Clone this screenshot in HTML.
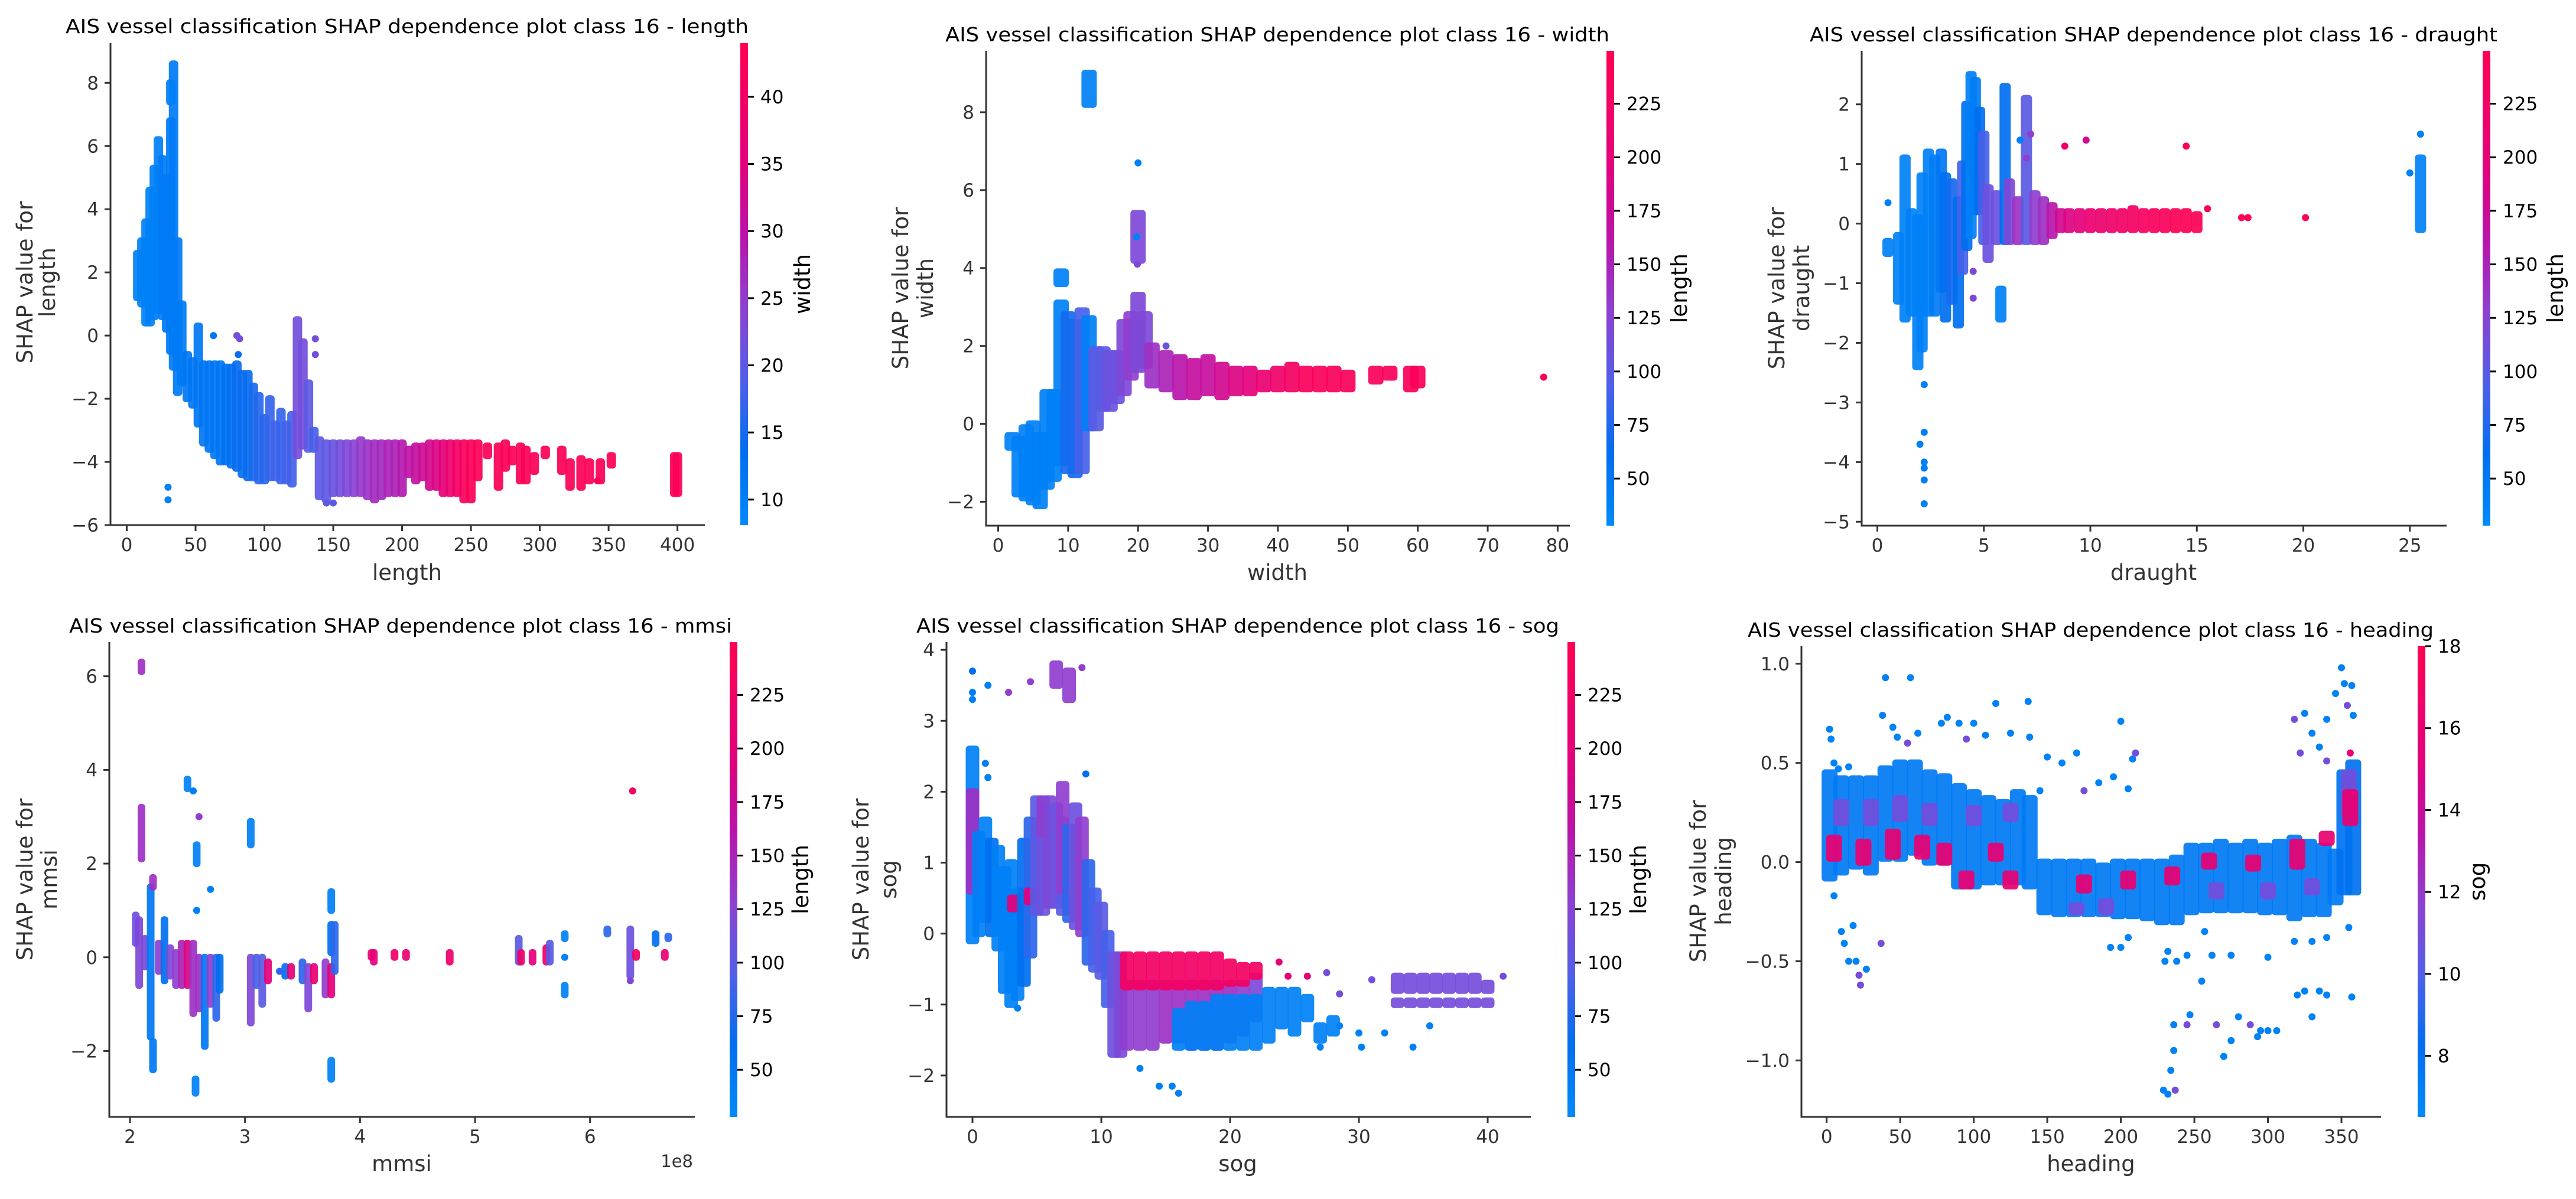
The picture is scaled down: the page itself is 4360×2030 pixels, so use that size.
<!DOCTYPE html>
<html><head><meta charset="utf-8">
<style>
html,body{margin:0;padding:0;background:#fff;}
svg{display:block;font-family:"DejaVu Sans","Liberation Sans",sans-serif;}
</style></head>
<body>
<svg id="fig" xmlns="http://www.w3.org/2000/svg" width="4360" height="2030" viewBox="0 0 4360 2030">
<defs>
<linearGradient id="cmapGrad" x1="0" y1="1" x2="0" y2="0">
<stop offset="0" stop-color="rgb(0,138,250)"/><stop offset="0.15" stop-color="rgb(0,110,240)"/>
<stop offset="0.3" stop-color="rgb(80,95,232)"/><stop offset="0.45" stop-color="rgb(140,65,210)"/>
<stop offset="0.6" stop-color="rgb(185,20,170)"/><stop offset="0.75" stop-color="rgb(225,0,125)"/>
<stop offset="1" stop-color="rgb(255,0,82)"/>
</linearGradient>
</defs>
</svg>
<script>
// ---------- DATA ----------
// columns: [x, shapLow, shapHigh, colourValue]; points: [x, shap, colourValue]
const lengthCols=[[8,1.2,2.6,10],[11,1.0,3.0,10],[14,0.4,3.6,10],[17,0.4,4.6,10],[20,0.6,5.3,10],[23,0.8,6.2,10],[26,0.6,5.6,11],[29,0.2,5.0,11],[32,-0.5,6.8,11],[34,-1.0,8.6,11],[32,7.4,8.0,10],[37,-1.8,3.0,11],[40,-1.5,1.0,11],
[44,-2.0,-0.6,12],[48,-2.2,-0.8,12],[52,-2.8,0.3,12],[56,-3.4,-0.9,12],[60,-3.6,-0.9,12],[64,-3.8,-0.9,12],[68,-4.0,-0.9,12],[72,-4.0,-1.0,13],[76,-4.1,-1.0,13],[80,-4.2,-0.9,14],[84,-4.4,-1.2,14],[88,-4.5,-1.2,14],[92,-4.5,-1.6,15],[96,-4.6,-1.9,16],[100,-4.6,-2.6,16],[104,-4.5,-2.0,17],[108,-4.5,-2.8,18],[112,-4.6,-2.4,17],[116,-4.6,-2.8,18],[120,-4.7,-2.5,18],[124,-3.8,0.5,22],[128,-3.5,-0.2,22],[132,-3.6,-1.5,20],[136,-3.6,-3.0,18],
[140,-5.1,-3.3,20],[145,-5.2,-3.4,20],[150,-5.0,-3.4,21],[155,-5.0,-3.4,22],[160,-5.0,-3.4,23],[165,-5.0,-3.4,24],[170,-5.0,-3.3,25],[175,-5.1,-3.4,26],[180,-5.2,-3.4,27],[185,-5.1,-3.4,27],[190,-5.0,-3.4,28],[195,-5.0,-3.4,28],[200,-5.0,-3.4,29],[205,-4.4,-3.6,30],[210,-4.6,-3.5,31],[215,-4.5,-3.5,32],[220,-4.8,-3.4,33],[225,-4.8,-3.4,34],[230,-5.0,-3.4,36],[235,-5.0,-3.4,38],[240,-5.0,-3.4,40],[245,-5.2,-3.4,42],[250,-5.2,-3.4,43],[255,-4.5,-3.4,43],
[262,-3.8,-3.5,43],[270,-4.8,-3.5,43],[275,-4.2,-3.4,43],[280,-4.0,-3.6,43],[286,-4.6,-3.5,43],[290,-4.6,-3.6,43],[296,-4.3,-3.8,43],[304,-3.8,-3.6,43],[316,-4.3,-3.6,43],[322,-4.8,-4.0,43],[330,-4.8,-3.9,43],[336,-4.6,-4.0,43],[344,-4.6,-4.0,43],[352,-4.1,-3.8,43],[398,-5.0,-3.8,43],[400,-5.0,-3.8,43]];
const lengthPts=[[30,-4.8,10],[30,-5.2,10],[63,0.0,12],[80,0.0,22],[82,-0.1,22],[137,-0.1,22],[137,-0.6,22],[81,-0.6,14],[342,-4.6,43],[150,-5.3,20],[145,-5.3,20]];

const widthCols=[[2,-0.6,-0.3,40],[3,-1.8,-0.4,40],[4,-1.9,-0.1,40],[5,-2.0,0.0,40],[6,-2.1,-0.3,40],[7,-1.6,0.8,40],[8,-1.4,0.8,40],[9,-1.0,3.1,40],[9,3.6,3.9,40],[10,-1.2,2.8,70],[11,-1.3,2.6,70],[12,-1.2,2.9,90],[13,8.2,9.0,40],[13,-0.1,2.7,40],[14,-0.1,1.9,100],[15,0.4,1.9,100],[16,0.4,1.8,110],[17,0.6,1.8,110],[18,0.8,2.6,120],[19,1.2,2.8,130],[20,1.4,3.3,120],[20,4.2,5.4,120],[21,1.5,2.8,120],[22,1.0,2.0,140],[24,0.9,1.8,150],[26,0.7,1.7,160],[28,0.7,1.6,170],[30,0.8,1.7,170],[32,0.7,1.5,180],[34,0.8,1.4,190],[36,0.8,1.4,200],[38,0.9,1.3,210],[40,0.9,1.4,220],[42,0.9,1.5,230],[44,0.9,1.4,240],[46,0.9,1.4,240],[48,0.9,1.4,240],[50,0.9,1.3,240],[54,1.1,1.4,240],[56,1.2,1.4,240],[59,0.9,1.4,240],[60,1.0,1.4,240]];
const widthPts=[[20,6.7,40],[19.8,4.8,40],[78,1.2,240],[19.9,4.1,120],[24,2.0,110]];

const draughtCols=[[0.5,-0.5,-0.3,40],[1.0,-1.3,-0.2,40],[1.3,-1.6,1.1,40],[1.6,-1.5,0.2,40],[1.9,-2.4,0.1,40],[2.1,-2.1,0.8,40],[2.4,-1.5,1.2,40],[2.7,-1.5,1.1,45],[3.0,-1.1,1.2,50],[3.2,-1.6,0.8,60],[3.5,-1.3,0.7,70],[3.8,-1.7,0.4,60],[4.0,-0.8,1.0,90],[4.2,-0.4,2.0,60],[4.4,-0.2,2.5,40],[4.6,0.2,2.4,45],[4.8,0.2,1.9,60],[5.0,-0.3,1.5,90],[5.2,-0.6,0.6,110],[5.6,-0.3,0.5,110],[5.8,-1.6,-1.1,40],[6.0,-0.3,2.3,60],[6.2,-0.3,0.7,120],[6.6,-0.3,0.4,140],[7.0,-0.3,2.1,100],[7.4,-0.3,0.5,130],[7.8,-0.3,0.4,140],[8.2,-0.2,0.3,160],[8.6,-0.1,0.2,180],[9,-0.1,0.2,190],[9.5,-0.1,0.2,200],[10,-0.1,0.2,210],[10.5,-0.1,0.2,215],[11,-0.1,0.2,220],[11.5,-0.1,0.2,225],[12,-0.1,0.25,230],[12.5,-0.1,0.2,235],[13,-0.1,0.2,240],[13.5,-0.1,0.2,240],[14,-0.1,0.2,245],[14.5,-0.1,0.2,245],[15,-0.1,0.15,245],[25.5,-0.1,1.1,40]];
const draughtPts=[[2.2,-2.7,40],[2.2,-3.5,40],[2.0,-3.7,40],[2.2,-4.0,40],[2.2,-4.1,40],[2.2,-4.3,40],[2.2,-4.7,40],[0.5,0.35,40],[8.8,1.3,220],[9.8,1.4,180],[14.5,1.3,240],[15.5,0.25,245],[17.1,0.1,245],[17.4,0.1,245],[20.1,0.1,245],[25.5,1.5,40],[25,0.85,40],[4.5,-1.25,120],[4.5,-0.8,120],[7.2,1.5,130],[7.0,1.1,130],[6.7,1.4,40]];

const mmsiCols=[[2.05,0.3,0.9,110],[2.08,-0.6,0.8,120],[2.1,2.1,3.2,140],[2.1,6.1,6.3,140],[2.13,-0.2,0.4,120],[2.18,-1.7,1.5,50],[2.2,-2.4,-1.8,50],[2.2,1.5,1.7,140],[2.25,-0.3,0.3,130],[2.3,-0.5,0.8,60],[2.35,-0.4,0.2,120],[2.4,-0.6,0.1,130],[2.45,-0.6,0.3,150],[2.5,-0.6,0.3,190],[2.5,3.6,3.8,40],[2.55,-1.2,0.3,140],[2.57,-2.9,-2.6,40],[2.58,2.0,2.4,40],[2.6,-1.1,0.0,140],[2.65,-1.9,0.0,50],[2.7,-1.0,0.0,130],[2.75,-1.3,0.0,80],[2.78,-0.7,0.0,60],[3.05,-1.4,0.0,120],[3.05,2.4,2.9,40],[3.1,-0.6,0.0,90],[3.15,-1.0,0.0,100],[3.2,-0.5,-0.1,200],[3.35,-0.4,-0.2,60],[3.4,-0.4,-0.2,200],[3.5,-0.5,-0.1,80],[3.55,-1.1,-0.2,120],[3.6,-0.5,-0.2,210],[3.7,-0.8,-0.1,130],[3.75,-0.8,-0.2,200],[3.75,0.1,0.7,60],[3.75,1.0,1.4,40],[3.75,-2.6,-2.2,40],[3.78,-0.3,0.7,80],[4.1,0.0,0.1,220],[4.12,-0.1,0.1,200],[4.3,0.0,0.1,220],[4.4,0.0,0.1,210],[4.78,-0.1,0.1,220],[5.38,-0.1,0.4,100],[5.4,-0.1,0.1,220],[5.5,-0.1,0.1,200],[5.62,-0.1,0.2,220],[5.65,-0.1,0.3,100],[5.78,-0.8,-0.6,40],[5.78,0.4,0.5,40],[6.15,0.5,0.6,80],[6.35,-0.4,0.6,110],[6.4,0.0,0.1,230],[6.57,0.3,0.5,60],[6.65,0.0,0.1,210],[6.68,0.4,0.45,80]];
const mmsiPts=[[2.6,3.0,130],[2.7,1.45,40],[2.58,1.0,40],[6.37,3.55,230],[5.78,0.0,40],[6.35,-0.5,120],[3.3,-0.3,80],[2.55,3.55,40]];

const sogCols=[[0,-0.1,2.6,40],[0,0.6,2.0,140],[0.5,0.0,1.4,40],[1,0.2,1.6,40],[1.5,0.0,1.3,60],[2,-0.2,1.2,40],[2.5,-0.8,0.9,40],[3,-1.0,1.0,40],[3.5,-0.9,0.6,40],[3.2,0.35,0.5,200],[4,-0.7,1.3,60],[4.5,-0.3,1.6,80],[4.5,0.45,0.6,200],[5,0.3,1.9,100],[5.5,0.3,1.8,110],[5.5,1.4,1.9,130],[6,0.4,1.9,120],[6.5,0.4,1.8,110],[6.5,3.5,3.8,130],[7,0.3,1.6,100],[7,0.6,2.1,130],[7.5,0.2,1.5,80],[7.5,3.3,3.7,130],[8,0.1,1.8,110],[8.5,0.0,1.6,130],[9,-0.4,1.0,80],[9.5,-0.5,0.6,90],[10,-0.6,0.4,100],[10.5,-1.0,0.0,90],
[11,-1.7,-0.3,110],[11.5,-1.7,-0.3,120],[12,-1.6,-0.7,130],[13,-1.6,-0.7,130],[14,-1.6,-0.7,130],[15,-1.5,-0.7,140],[16,-1.5,-0.7,140],[17,-1.6,-0.7,140],[18,-1.6,-0.7,140],[19,-1.6,-0.7,140],[20,-1.5,-0.7,140],[21,-1.4,-0.7,130],[22,-1.2,-0.6,120],
[12,-0.75,-0.3,230],[13,-0.75,-0.3,230],[14,-0.75,-0.3,225],[15,-0.75,-0.3,230],[16,-0.75,-0.3,230],[17,-0.75,-0.3,225],[18,-0.75,-0.3,230],[19,-0.75,-0.3,225],[20,-0.7,-0.4,230],[21,-0.7,-0.45,230],[22,-0.6,-0.45,230],
[16,-1.6,-1.1,40],[17,-1.6,-1.0,40],[18,-1.6,-1.0,40],[19,-1.6,-0.9,40],[20,-1.6,-0.9,40],[21,-1.6,-0.9,40],[22,-1.6,-0.9,40],[23,-1.5,-0.8,40],[24,-1.3,-0.8,40],[25,-1.4,-0.8,40],[26,-1.2,-0.9,40],[27,-1.5,-1.3,40],[28,-1.4,-1.2,40],
[33,-0.8,-0.6,115],[34,-0.8,-0.6,115],[35,-0.8,-0.6,115],[36,-0.8,-0.6,115],[37,-0.8,-0.6,115],[38,-0.8,-0.6,115],[39,-0.8,-0.6,115],[40,-0.8,-0.7,115],
[33,-1.0,-0.95,115],[34,-1.0,-0.95,115],[35,-1.0,-0.95,115],[36,-1.0,-0.95,115],[37,-1.0,-0.95,115],[38,-1.0,-0.95,115],[39,-1.0,-0.95,115],[40,-1.0,-0.95,115]];
const sogPts=[[0,3.7,60],[0,3.4,40],[0,3.3,40],[1.2,3.5,40],[2.8,3.4,130],[4.5,3.55,130],[8.5,3.75,130],[1,2.4,40],[1.2,2.2,40],[8.8,2.25,60],[3.5,-1.05,40],[16,-2.25,40],[15.5,-2.15,40],[14.5,-2.15,40],[13,-1.9,40],[35.5,-1.3,40],[34.2,-1.6,40],[30,-1.4,40],[30.2,-1.6,40],[28.5,-1.3,40],[27,-1.6,40],[32,-1.4,40],[26,-0.6,200],[24.5,-0.6,200],[23.8,-0.4,200],[41.2,-0.6,115],[27.5,-0.55,115],[28.5,-0.85,115],[31,-0.65,115]];

const headingCols=[[2,-0.08,0.45,7.5],[10,-0.05,0.42,7.5],[20,-0.02,0.42,7.5],[30,-0.05,0.42,7.5],[40,0.02,0.47,7.5],[50,0.02,0.5,7.5],[60,0.05,0.5,7.5],[70,0.0,0.45,7.5],[80,0.0,0.43,7.5],[90,-0.12,0.38,7.5],[100,-0.12,0.35,7.5],[110,-0.1,0.32,7.5],[120,-0.1,0.3,7.5],[130,-0.1,0.35,7.5],[138,-0.12,0.32,7.5],[148,-0.25,0.0,7.5],[158,-0.26,0.0,7.5],[168,-0.26,0.0,7.5],[178,-0.26,0.0,7.5],[188,-0.26,-0.02,7.5],[198,-0.27,0.0,7.5],[208,-0.27,0.0,7.5],[218,-0.28,0.0,7.5],[228,-0.3,0.0,7.5],[238,-0.3,0.02,7.5],[248,-0.25,0.08,7.5],[258,-0.24,0.08,7.5],[268,-0.24,0.1,7.5],[278,-0.24,0.08,7.5],[288,-0.24,0.1,7.5],[298,-0.25,0.08,7.5],[308,-0.25,0.1,7.5],[318,-0.28,0.12,7.5],[328,-0.26,0.1,7.5],[338,-0.26,0.08,7.5],[346,-0.2,0.05,7.5],[352,-0.15,0.45,8],[358,-0.15,0.5,8],
[10,0.2,0.3,11],[30,0.2,0.3,11],[50,0.22,0.32,11],[70,0.2,0.28,11],[100,0.2,0.27,11],[125,0.22,0.28,11],[170,-0.25,-0.22,11],[190,-0.25,-0.2,11],[265,-0.17,-0.12,11],[300,-0.17,-0.12,11],[330,-0.15,-0.1,11],[355,0.25,0.45,11],
[5,0.02,0.12,16],[25,0.0,0.1,16],[45,0.03,0.15,16],[65,0.03,0.12,16],[80,0.0,0.08,16],[95,-0.12,-0.06,16],[115,0.02,0.08,16],[125,-0.12,-0.06,16],[175,-0.14,-0.08,16],[205,-0.12,-0.06,16],[235,-0.1,-0.04,16],[260,-0.02,0.03,16],[290,-0.03,0.02,16],[320,-0.02,0.1,16],[340,0.1,0.14,16],[356,0.2,0.35,16]];
const headingPts=[[2,0.67,7],[3,0.62,7],[5,0.5,7],[8,0.47,7],[15,0.48,7],[38,0.74,7],[40,0.93,7],[57,0.93,7],[45,0.68,7],[48,0.63,7],[55,0.6,11],[62,0.65,7],[78,0.7,7],[82,0.73,7],[90,0.7,7],[100,0.7,7],[95,0.62,11],[108,0.64,7],[115,0.8,7],[125,0.65,7],[137,0.81,7],[138,0.63,7],[150,0.53,7],[145,0.36,7],[160,0.5,7],[170,0.55,7],[175,0.36,11],[185,0.4,7],[195,0.43,7],[200,0.71,7],[205,0.37,7],[208,0.52,7],[210,0.55,11],[5,-0.17,7],[10,-0.35,7],[12,-0.41,7],[15,-0.5,7],[18,-0.32,7],[20,-0.5,7],[22,-0.57,11],[23,-0.62,11],[27,-0.54,7],[37,-0.41,11],[193,-0.43,7],[200,-0.43,7],[205,-0.38,7],[230,-0.5,7],[232,-0.45,7],[238,-0.5,7],[245,-0.47,7],[255,-0.6,7],[257,-0.35,7],[262,-0.47,7],[275,-0.47,7],[236,-0.82,7],[245,-0.82,11],[247,-0.77,7],[236,-0.95,7],[234,-1.05,7],[229,-1.15,7],[232,-1.17,7],[237,-1.15,11],[265,-0.82,11],[270,-0.98,7],[275,-0.9,7],[280,-0.78,7],[288,-0.82,11],[295,-0.85,7],[293,-0.88,7],[300,-0.85,7],[306,-0.85,7],[300,-0.48,7],[320,-0.67,7],[325,-0.65,7],[330,-0.78,7],[335,-0.65,7],[340,-0.67,7],[357,-0.68,7],[355,-0.33,7],[318,0.72,11],[325,0.75,7],[330,0.65,7],[335,0.58,7],[340,0.72,7],[346,0.85,7],[350,0.98,7],[352,0.9,7],[357,0.89,7],[354,0.79,11],[358,0.74,7],[356,0.55,16],[322,0.55,11],[340,0.51,11],[318,-0.4,7],[330,-0.4,7],[340,-0.38,7]];

const lengthXTicks=[0,50,100,150,200,250,300,350,400], lengthYTicks=[-6,-4,-2,0,2,4,6,8], lengthCbTicks=[10,15,20,25,30,35,40];
const widthXTicks=[0,10,20,30,40,50,60,70,80], widthYTicks=[-2,0,2,4,6,8], lenCbTicks=[50,75,100,125,150,175,200,225];
const draughtXTicks=[0,5,10,15,20,25], draughtYTicks=[-5,-4,-3,-2,-1,0,1,2];
const mmsiXTicks=[2,3,4,5,6], mmsiYTicks=[-2,0,2,4,6];
const sogXTicks=[0,10,20,30,40], sogYTicks=[-2,-1,0,1,2,3,4];
const headingXTicks=[0,50,100,150,200,250,300,350], headingYTicks=[-1.0,-0.5,0.0,0.5,1.0], sogCbTicks=[8,10,12,14,16,18];

// ---------- RENDER ----------
const NS='http://www.w3.org/2000/svg';
const fig=document.getElementById('fig');
const STOPS=[[0,[0,138,250]],[0.15,[0,110,240]],[0.3,[80,95,232]],[0.45,[140,65,210]],[0.6,[185,20,170]],[0.75,[225,0,125]],[1,[255,0,82]]];
function cmap(t){t=Math.max(0,Math.min(1,t));for(let i=1;i<STOPS.length;i++){if(t<=STOPS[i][0]){const a=STOPS[i-1],b=STOPS[i];const f=(t-a[0])/(b[0]-a[0]);return 'rgb('+a[1].map((v,k)=>Math.round(v+(b[1][k]-v)*f)).join(',')+')';}}return 'rgb(255,0,82)';}
function mk(tag,attrs,parent){const e=document.createElementNS(NS,tag);for(const k in attrs)e.setAttribute(k,attrs[k]);(parent||fig).appendChild(e);return e;}
function fmt(v,dec){const s=v.toFixed(dec);return s.replace('-','\u2212');}

function panel(c){
  const g=mk('g',{});
  
  
  const xs=v=>c.xp[0]+(v-c.xv[0])*(c.xp[1]-c.xp[0])/(c.xv[1]-c.xv[0]);
  const ys=v=>c.yp[0]+(v-c.yv[0])*(c.yp[1]-c.yp[0])/(c.yv[1]-c.yv[0]);
  const cn=v=>(v-c.cmin)/(c.cmax-c.cmin);
  const r=6;
  const marks=mk('g',{},g);
  
  
  c.cols.forEach(d=>{
    const y1=ys(d[2])-r, y2=ys(d[1])+r;
    const el=mk('rect',{x:xs(d[0])-c.colW/2,y:y1,width:c.colW,height:Math.max(2*r,y2-y1),rx:r,fill:cmap(cn(d[3])),'fill-opacity':0.92},marks);
    
    
  });
  c.pts.forEach(d=>{
    const el=mk('circle',{cx:xs(d[0]),cy:ys(d[1]),r:r,fill:cmap(cn(d[2]))},marks);
    
    
  });
  const sp1=mk('line',{x1:c.L,y1:c.T,x2:c.L,y2:c.B+1.5,stroke:'#333',"stroke-width":3},g);
  
  const sp2=mk('line',{x1:c.L-1.5,y1:c.B,x2:c.R,y2:c.B,stroke:'#333',"stroke-width":3},g);
  
  c.xt.forEach(v=>{
    const x=xs(v);
    mk('line',{x1:x,y1:c.B,x2:x,y2:c.B+10,stroke:'#333','stroke-width':3},g);
    const t=mk('text',{x:x,y:c.B+44,'font-size':31,fill:'#333','text-anchor':'middle'},g);
    t.textContent=fmt(v,0);
    
  });
  c.yt.forEach(v=>{
    const y=ys(v);
    mk('line',{x1:c.L-10,y1:y,x2:c.L,y2:y,stroke:'#333','stroke-width':3},g);
    const t=mk('text',{x:c.L-20,y:y+11,'font-size':31,fill:'#333','text-anchor':'end'},g);
    t.textContent=fmt(v,c.ydec||0);
    
  });
  const tt=mk('text',{x:(c.title[0]+c.title[1])/2,y:c.title[2],'font-size':33,fill:'#000','text-anchor':'middle',textLength:c.title[1]-c.title[0],lengthAdjust:'spacingAndGlyphs'},g);
  tt.textContent='AIS vessel classification SHAP dependence plot class 16 - '+c.name;
  
  const xl=mk('text',{x:c.xl[0],y:c.xl[1],'font-size':37,fill:'#333','text-anchor':'middle'},g);
  xl.textContent=c.name;
  
  const yl=mk('text',{'font-size':37,fill:'#333','text-anchor':'middle',transform:'rotate(-90)'},g);
  
  const t1=mk('tspan',{x:-c.yl[2],y:c.yl[0]+13},yl);t1.textContent='SHAP value for';
  const t2=mk('tspan',{x:-c.yl[2],y:c.yl[1]+13},yl);t2.textContent=c.name;
  const cb=mk('rect',{x:c.cbx,y:c.T,width:13,height:c.B-c.T,fill:'url(#cmapGrad)'},g);
  
  const cys=v=>c.B-(v-c.cmin)/(c.cmax-c.cmin)*(c.B-c.T);
  c.ct.forEach(v=>{
    const y=cys(v);
    mk('line',{x1:c.cbx+13,y1:y,x2:c.cbx+23,y2:y,stroke:'#000','stroke-width':3},g);
    const t=mk('text',{x:c.cbx+34,y:y+11,'font-size':31,fill:'#000'},g);
    t.textContent=fmt(v,0);
    
  });
  const cl=mk('text',{'font-size':37,fill:'#000','text-anchor':'middle',transform:'translate('+(c.cbl+13)+','+((c.T+c.B)/2)+') rotate(-90)'},g);
  cl.textContent=c.cbname;
  
}

panel({name:'length',cols:lengthCols,pts:lengthPts,colW:16,L:187,R:1193,T:73,B:889,xv:[0,400],xp:[214.5,1146.6],yv:[8,-6],yp:[140.3,889],xt:lengthXTicks,yt:lengthYTicks,
  cbx:1253,cmin:8.1,cmax:44,ct:lengthCbTicks,cbname:'width',cbl:1358,title:[111,1267,56],xl:[689,982],yl:[42,80,478]});
panel({name:'width',cols:widthCols,pts:widthPts,colW:26,L:1669,R:2657,T:86,B:890,xv:[0,80],xp:[1689.5,2636.4],yv:[8,-2],yp:[190,849.5],xt:widthXTicks,yt:widthYTicks,
  cbx:2719,cmin:28,cmax:249.7,ct:lenCbTicks,cbname:'length',cbl:2842,title:[1600,2724,70],xl:[2162,982],yl:[1524,1566,488]});
panel({name:'draught',cols:draughtCols,pts:draughtPts,colW:19,L:3151,R:4141,T:86,B:890,xv:[0,25],xp:[3177.5,4078.8],yv:[2,-5],yp:[176.7,883.3],xt:draughtXTicks,yt:draughtYTicks,
  cbx:4202,cmin:28,cmax:249.7,ct:lenCbTicks,cbname:'length',cbl:4325,title:[3063,4227,70],xl:[3645,982],yl:[3007,3049,488]});
panel({name:'mmsi',cols:mmsiCols,pts:mmsiPts,colW:13,L:185,R:1176,T:1087,B:1891,xv:[2,6],xp:[220,998.7],yv:[6,-2],yp:[1144.8,1779.4],xt:mmsiXTicks,yt:mmsiYTicks,
  cbx:1235,cmin:28,cmax:249.7,ct:lenCbTicks,cbname:'length',cbl:1355,title:[117,1239,1071],xl:[680,1983],yl:[42,83,1489]});
panel({name:'sog',cols:sogCols,pts:sogPts,colW:23,L:1602,R:2591,T:1087,B:1891,xv:[0,40],xp:[1646,2518],yv:[4,-2],yp:[1100.2,1820.9],xt:sogXTicks,yt:sogYTicks,
  cbx:2653,cmin:28,cmax:249.7,ct:lenCbTicks,cbname:'length',cbl:2773,title:[1551,2639,1071],xl:[2095,1983],yl:[1457,1504,1489]});
panel({name:'heading',cols:headingCols,pts:headingPts,colW:27,L:3049,R:4030,T:1094,B:1891,xv:[0,350],xp:[3091.7,3963],yv:[1,-1],yp:[1123.8,1795.4],xt:headingXTicks,yt:headingYTicks,ydec:1,
  cbx:4092,cmin:6.51,cmax:18,ct:sogCbTicks,cbname:'sog',cbl:4193,title:[2958,4119,1078],xl:[3539,1983],yl:[2874,2917,1492]});

const off=mk('text',{x:1173,y:1976,'font-size':29,fill:'#333','text-anchor':'end'});
off.textContent='1e8';


</script>
</body></html>
